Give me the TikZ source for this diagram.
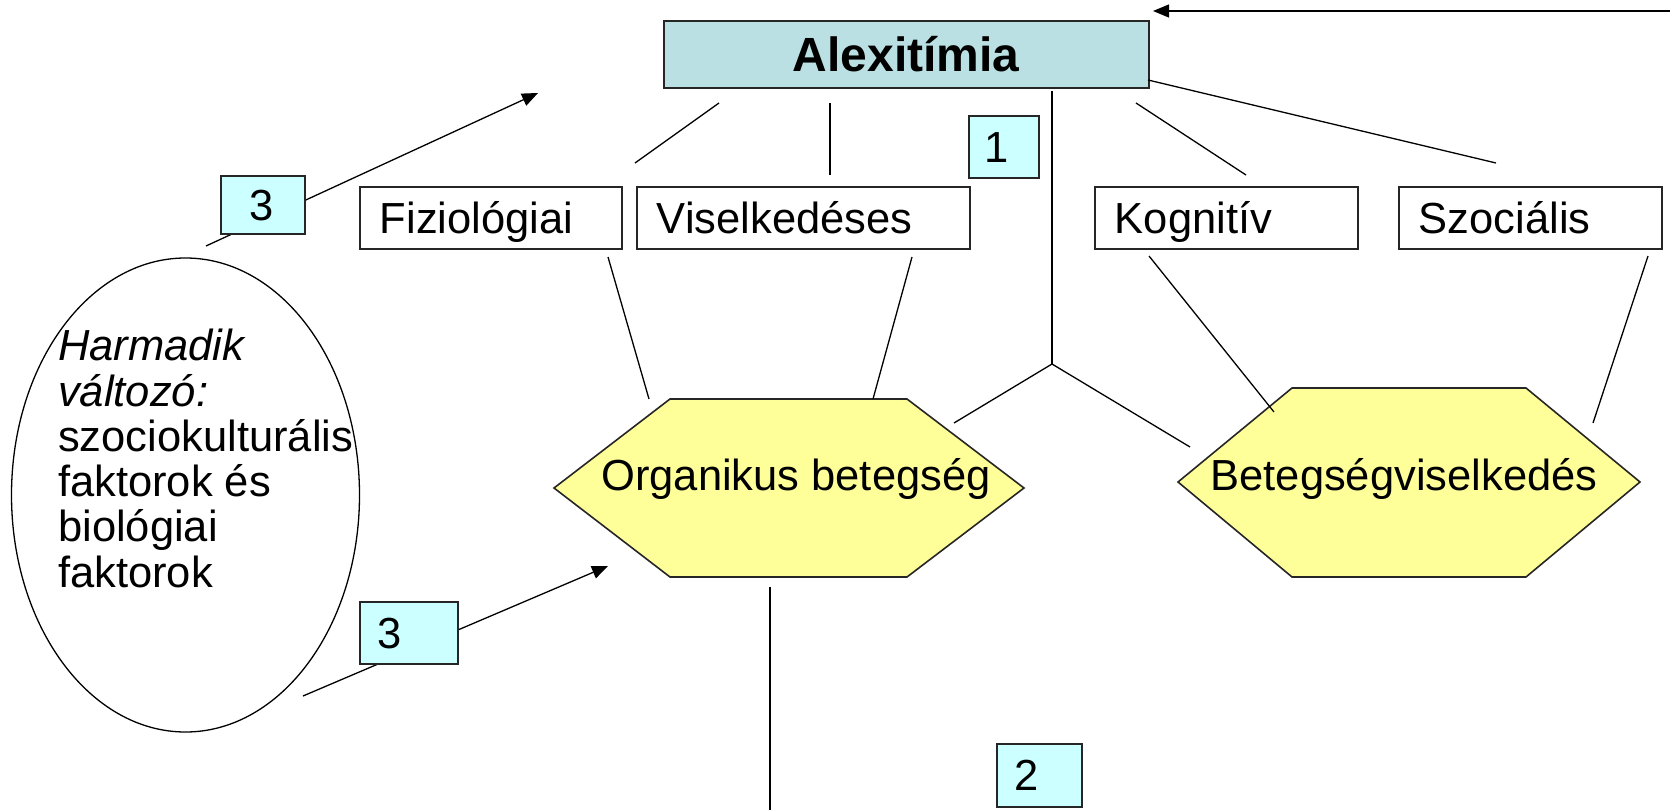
\documentclass[tikz,border=0pt]{standalone}
\usepackage{fontspec}
\setmainfont{Liberation Sans}
\usetikzlibrary{shapes.geometric,arrows.meta}
\definecolor{alexfill}{RGB}{187,224,228}
\definecolor{numfill}{RGB}{204,255,255}
\definecolor{hexfill}{RGB}{255,255,153}
\begin{document}
\begin{tikzpicture}[x=1pt,y=-1pt,
  every node/.style={font=\fontsize{43.5}{45.3}\selectfont},
  frame/.style={draw=black!85, line width=1.6pt},
  catbox/.style={frame, fill=white, anchor=north west, inner xsep=20pt, inner ysep=15.5pt,
                 text height=31pt, text depth=0pt, align=left},
  numbox/.style={frame, fill=numfill, anchor=north west, text height=31pt, text depth=0pt, align=left},
  link/.style={line width=1.3pt},
  arrowlink/.style={link, -{Triangle[length=16pt,width=13pt]}},
  hexagon/.style={frame, fill=hexfill, line join=miter}]

\useasboundingbox (0,0) rectangle (1670,810);

% central concept
\node[frame, fill=alexfill, anchor=north west, minimum width=485pt, minimum height=67pt,
      inner sep=0pt, text height=34pt, text depth=0pt,
      font=\fontsize{48}{50}\selectfont\bfseries] (alex) at (663,20) {Alexitímia};

% feedback arrow entering from the right
\coordinate (fbstart) at (1670,11);
\coordinate (fbend) at (1153,11);
\draw[arrowlink] (fbstart) -- (fbend);

% dimension boxes
\node[catbox, text width=222pt] (fiz) at (359,186) {Fiziológiai};
\node[catbox, text width=293pt] (vis) at (636,186) {Viselkedéses};
\node[catbox, text width=223pt] (kog) at (1094,186) {Kognitív};
\node[catbox, text width=223pt] (szoc) at (1398,186) {Szociális};

% outcome hexagons
\draw[hexagon] (554,488) -- (670,399) -- (907,399) -- (1024,488) -- (907,577) -- (670,577) -- cycle;
\node[anchor=base] (org) at (796,490) {Organikus betegség};
\draw[hexagon] (1178,482) -- (1292,388) -- (1526,388) -- (1640,482) -- (1526,577) -- (1292,577) -- cycle;
\node[anchor=base] (beh) at (1404,490) {Betegségviselkedés};

% third variable
\node[draw, ellipse, line width=1.3pt, minimum width=348pt, minimum height=474pt, inner sep=0pt]
      (third) at (185.5,495) {};
\node[anchor=north west, align=left, inner sep=0pt] (thirdtext) at (58,329)
      {\textit{Harmadik}\\\textit{változó:}\\szociokulturális\\faktorok és\\biológiai\\faktorok};

% connector end points
\coordinate (a1) at (719,103);  \coordinate (f1) at (635,163);
\coordinate (a2) at (830,103);  \coordinate (v1) at (830,175);
\coordinate (a3) at (1052,91);  \coordinate (fork) at (1052,364);
\coordinate (a4) at (1136,103); \coordinate (k1) at (1246,175);
\coordinate (a5) at (1148,80);  \coordinate (s1) at (1496,163);
\coordinate (f2) at (608,257);  \coordinate (o1) at (649,399);
\coordinate (v2) at (912,257);  \coordinate (o2) at (873,399);
\coordinate (k2) at (1149,256); \coordinate (b1) at (1274,412);
\coordinate (s2) at (1648,256); \coordinate (b2) at (1593,423);
\coordinate (o3) at (954,423);  \coordinate (b3) at (1190,447);
\coordinate (o4) at (770,587);  \coordinate (down) at (770,810);
\coordinate (t1) at (206,246);  \coordinate (t1end) at (538,93);
\coordinate (t2) at (303,696);  \coordinate (t2end) at (608,566);

\draw[link] (a1) -- (f1);
\draw[link] (a2) -- (v1);
\draw[link] (a3) -- (fork);
\draw[link] (a4) -- (k1);
\draw[link] (a5) -- (s1);
\draw[link] (f2) -- (o1);
\draw[link] (v2) -- (o2);
\draw[link] (k2) -- (b1);
\draw[link] (s2) -- (b2);
\draw[link] (fork) -- (o3);
\draw[link] (fork) -- (b3);
\draw[link] (o4) -- (down);
\draw[arrowlink] (t1) -- (t1end);
\draw[arrowlink] (t2) -- (t2end);

% numbered path labels
\node[numbox, inner xsep=29pt, inner ysep=13.75pt, text width=26pt] (n3a) at (220,175) {3};
\node[numbox, inner xsep=18pt, inner ysep=15.5pt, text width=62pt] (n3b) at (359,601) {3};
\node[numbox, inner xsep=16pt, inner ysep=15.5pt, text width=38pt] (n1) at (968,115) {1};
\node[numbox, inner xsep=18pt, inner ysep=16pt, text width=49pt] (n2) at (996,743) {2};

\end{tikzpicture}
\end{document}
